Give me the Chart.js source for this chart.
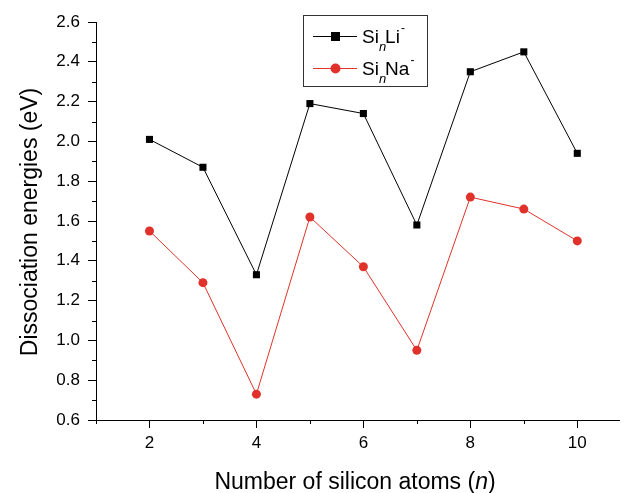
<!DOCTYPE html>
<html>
<head>
<meta charset="utf-8">
<script src="https://cdn.jsdelivr.net/npm/chart.js@4"></script>
<style>
  html, body { margin: 0; padding: 0; background: #fff; }
  #wrap { width: 624px; height: 493px; }
</style>
</head>
<body>
<div id="wrap"><canvas id="chart" width="624" height="493"></canvas></div>
<script>
const atoms = [2, 3, 4, 5, 6, 7, 8, 9, 10];
const siLi = [2.01, 1.87, 1.33, 2.19, 2.14, 1.58, 2.35, 2.45, 1.94];
const siNa = [1.55, 1.29, 0.73, 1.62, 1.37, 0.95, 1.72, 1.66, 1.50];
const xTicks = [2, 4, 6, 8, 10];
const xMinor = [1, 3, 5, 7, 9];
const yTicks = [0.6, 0.8, 1.0, 1.2, 1.4, 1.6, 1.8, 2.0, 2.2, 2.4, 2.6];
const yMinor = [0.7, 0.9, 1.1, 1.3, 1.5, 1.7, 1.9, 2.1, 2.3, 2.5];

const FONT = '"Liberation Sans", Arial, Helvetica, sans-serif';
const RED = '#e0322a';

// minor ticks, titles with italic n, legend box
const extras = {
  id: 'extras',
  afterDraw(chart) {
    const ctx = chart.ctx;
    const xs = chart.scales.x, ys = chart.scales.y;
    const area = chart.chartArea;
    ctx.save();
    ctx.strokeStyle = '#000';
    ctx.lineWidth = 1;
    ctx.beginPath();
    xMinor.forEach(v => {
      const px = Math.round(xs.getPixelForValue(v)) + 0.5;
      ctx.moveTo(px, area.bottom);
      ctx.lineTo(px, area.bottom + 4);
    });
    yMinor.forEach(v => {
      const py = Math.round(ys.getPixelForValue(v)) + 0.5;
      ctx.moveTo(area.left, py);
      ctx.lineTo(area.left - 4, py);
    });
    ctx.stroke();

    // x title
    ctx.fillStyle = '#000';
    ctx.textBaseline = 'alphabetic';
    const parts = [['Number of silicon atoms (', '23px ' + FONT], ['n', 'italic 23px ' + FONT], [')', '23px ' + FONT]];
    let w = 0;
    parts.forEach(p => { ctx.font = p[1]; w += ctx.measureText(p[0]).width; });
    let x = 355 - w / 2;
    parts.forEach(p => { ctx.font = p[1]; ctx.fillText(p[0], x, 489); x += ctx.measureText(p[0]).width; });

    // y title
    ctx.save();
    ctx.translate(31, 222);
    ctx.rotate(-Math.PI / 2);
    ctx.font = '23px ' + FONT;
    ctx.textAlign = 'center';
    ctx.textBaseline = 'middle';
    ctx.fillText('Dissociation energies (eV)', 0, 0);
    ctx.restore();

    // legend
    const bx = 303.5, by = 15.5, bw = 124, bh = 71;
    ctx.strokeStyle = '#333';
    ctx.strokeRect(bx, by, bw, bh);
    const rows = [
      { color: '#000', shape: 'square', base: 'Si', sup: '-', tail: 'Li', y: 36 },
      { color: RED, shape: 'circle', base: 'Si', sup: '-', tail: 'Na', y: 68 }
    ];
    rows.forEach(r => {
      ctx.strokeStyle = r.color;
      ctx.fillStyle = r.color;
      ctx.beginPath();
      ctx.moveTo(313, r.y + 0.5);
      ctx.lineTo(357, r.y + 0.5);
      ctx.stroke();
      if (r.shape === 'square') {
        ctx.fillRect(331, r.y - 4, 9, 9);
      } else {
        ctx.beginPath();
        ctx.arc(335.5, r.y + 0.5, 5, 0, Math.PI * 2);
        ctx.fill();
      }
      ctx.fillStyle = '#000';
      let tx = 362;
      ctx.font = '19px ' + FONT;
      ctx.fillText(r.base, tx, r.y + 7);
      tx += ctx.measureText(r.base).width;
      ctx.font = 'italic 13px ' + FONT;
      ctx.fillText('n', tx, r.y + 15);
      tx += ctx.measureText('n').width - 1;
      ctx.font = '19px ' + FONT;
      ctx.fillText(r.tail, tx, r.y + 7);
      tx += ctx.measureText(r.tail).width + 1;
      ctx.font = '12px ' + FONT;
      ctx.fillText(r.sup, tx, r.y - 4);
    });
    ctx.restore();
  }
};

new Chart(document.getElementById('chart'), {
  type: 'scatter',
  data: {
    datasets: [
      {
        label: 'SinLi-',
        data: atoms.map((n, i) => ({ x: n, y: siLi[i] })),
        showLine: true,
        borderColor: '#000',
        backgroundColor: '#000',
        borderWidth: 1,
        pointStyle: 'rect',
        pointRadius: 5,
        pointBorderWidth: 0
      },
      {
        label: 'SinNa-',
        data: atoms.map((n, i) => ({ x: n, y: siNa[i] })),
        showLine: true,
        borderColor: RED,
        backgroundColor: RED,
        borderWidth: 1,
        pointStyle: 'circle',
        pointRadius: 4.5,
        pointBorderWidth: 0
      }
    ]
  },
  options: {
    responsive: false,
    animation: false,
    layout: { padding: { top: 22, right: 0, left: 0, bottom: 0 } },
    plugins: { legend: { display: false }, tooltip: { enabled: false } },
    scales: {
      x: {
        type: 'linear',
        min: 1,
        max: 10.78,
        afterBuildTicks: s => { s.ticks = xTicks.map(v => ({ value: v })); },
        afterFit: s => { s.height = 73; },
        grid: { drawOnChartArea: false, tickLength: 8, color: '#000' },
        border: { color: '#000', width: 1 },
        ticks: { color: '#000', font: { family: FONT, size: 17 }, padding: 5, maxRotation: 0 }
      },
      y: {
        min: 0.6,
        max: 2.6,
        afterBuildTicks: s => { s.ticks = yTicks.map(v => ({ value: v })); },
        afterFit: s => { s.width = 96; },
        grid: { drawOnChartArea: false, tickLength: 8, color: '#000' },
        border: { color: '#000', width: 1 },
        ticks: { color: '#000', font: { family: FONT, size: 17 }, padding: 8, callback: v => v.toFixed(1) }
      }
    }
  },
  plugins: [extras]
});
</script>
</body>
</html>
